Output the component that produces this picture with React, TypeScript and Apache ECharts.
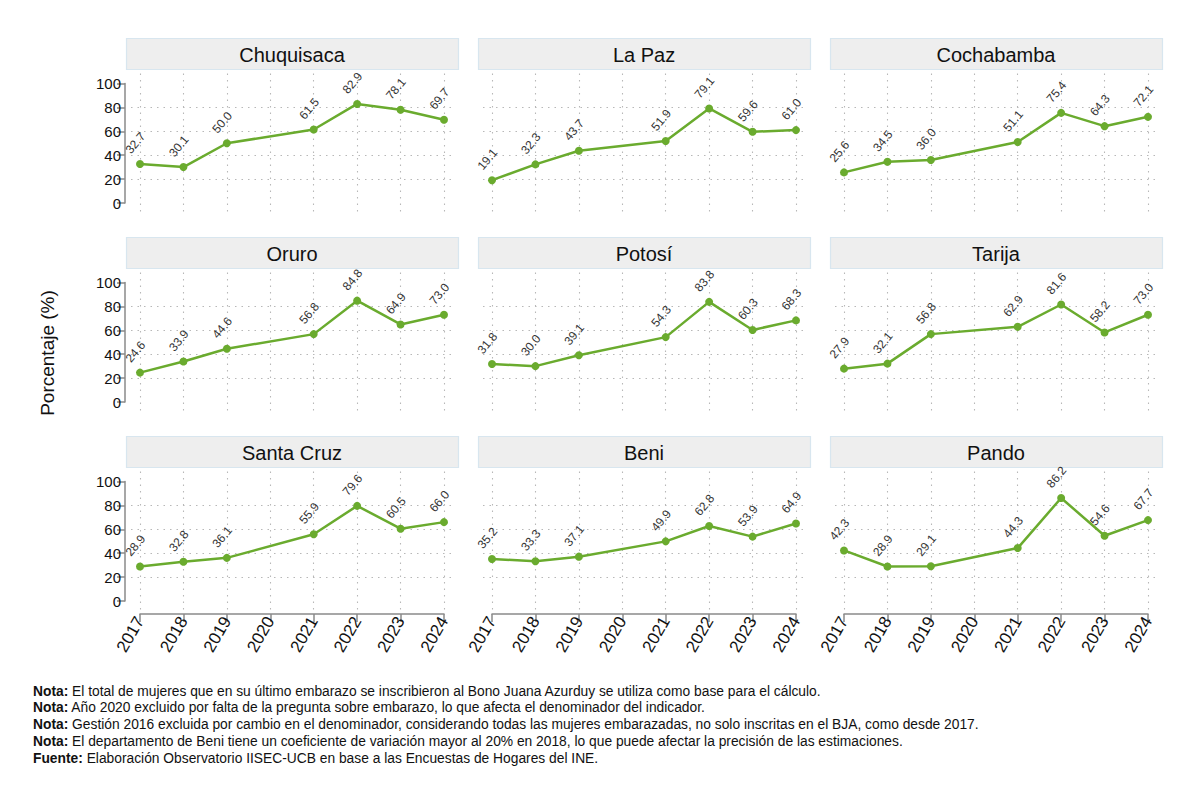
import React, { useEffect, useRef } from "react";
import * as echarts from "echarts";

const departments = ["Chuquisaca", "La Paz", "Cochabamba", "Oruro", "Potosí", "Tarija", "Santa Cruz", "Beni", "Pando"];
const years = [2017, 2018, 2019, 2021, 2022, 2023, 2024];
const tickYears = [2017, 2018, 2019, 2020, 2021, 2022, 2023, 2024];
const gridYValues = [20, 40, 60, 80];

const chuquisaca = [32.7, 30.1, 50.0, 61.5, 82.9, 78.1, 69.7];
const laPaz = [19.1, 32.3, 43.7, 51.9, 79.1, 59.6, 61.0];
const cochabamba = [25.6, 34.5, 36.0, 51.1, 75.4, 64.3, 72.1];
const oruro = [24.6, 33.9, 44.6, 56.8, 84.8, 64.9, 73.0];
const potosi = [31.8, 30.0, 39.1, 54.3, 83.8, 60.3, 68.3];
const tarija = [27.9, 32.1, 56.8, 62.9, 81.6, 58.2, 73.0];
const santaCruz = [28.9, 32.8, 36.1, 55.9, 79.6, 60.5, 66.0];
const beni = [35.2, 33.3, 37.1, 49.9, 62.8, 53.9, 64.9];
const pando = [42.3, 28.9, 29.1, 44.3, 86.2, 54.6, 67.7];

const seriesValues = [chuquisaca, laPaz, cochabamba, oruro, potosi, tarija, santaCruz, beni, pando];

const yTitle = "Porcentaje (%)";
const notes = [
  ["Nota:", " El total de mujeres que en su último embarazo se inscribieron al Bono Juana Azurduy se utiliza como base para el cálculo."],
  ["Nota:", " Año 2020 excluido por falta de la pregunta sobre embarazo, lo que afecta el denominador del indicador."],
  ["Nota:", " Gestión 2016 excluida por cambio en el denominador, considerando todas las mujeres embarazadas, no solo inscritas en el BJA, como desde 2017."],
  ["Nota:", " El departamento de Beni tiene un coeficiente de variación mayor al 20% en 2018, lo que puede afectar la precisión de las estimaciones."],
  ["Fuente:", " Elaboración Observatorio IISEC-UCB en base a las Encuestas de Hogares del INE."],
];

const FONT = "'Liberation Sans', Arial, sans-serif";
const GREEN = "#6aab2e";

export default function App() {
  const ref = useRef<HTMLDivElement>(null);

  useEffect(() => {
    document.body.style.margin = "0";
    if (!ref.current) return;
    const chart = echarts.init(ref.current, undefined, { renderer: "svg" });

    const colLeft = [126, 478, 830];
    const rowTop = [38, 237, 436];
    const boxW = 332;
    const boxH = 31;
    const pad = 14;
    const plotW = boxW - 2 * pad; // 2017..2024
    const plotH = 119.5; // 0..100
    const pxPerYear = plotW / 7;
    const pxPerUnit = plotH / 100;

    const grids: any[] = [];
    const xAxes: any[] = [];
    const yAxes: any[] = [];
    const series: any[] = [];
    const graphics: any[] = [];

    departments.forEach((name, i) => {
      const r = Math.floor(i / 3);
      const c = i % 3;
      const bx = colLeft[c];
      const by = rowTop[r];
      const xl = bx + pad;
      const y100 = by + 45.5;

      graphics.push({
        type: "rect",
        shape: { x: bx + 0.5, y: by + 0.5, width: boxW, height: boxH },
        style: { fill: "#eeeeee", stroke: "#d8e6ef", lineWidth: 1.2 },
        silent: true,
      });
      graphics.push({
        type: "text",
        x: bx + boxW / 2,
        y: by + boxH / 2 + 1,
        style: { text: name, fontSize: 20, fontFamily: FONT, fill: "#111", align: "center", verticalAlign: "middle" },
        silent: true,
      });

      const gLeftPad = 9;
      const gRightPad = 11;
      const gTopPad = 10;
      const gBotPad = 11;
      const gi = grids.length;
      grids.push({ left: xl - gLeftPad, top: y100 - gTopPad, width: plotW + gLeftPad + gRightPad, height: plotH + gTopPad + gBotPad });
      xAxes.push({
        gridIndex: gi, type: "value",
        min: 2017 - gLeftPad / pxPerYear, max: 2024 + gRightPad / pxPerYear,
        axisLine: { show: false }, axisLabel: { show: false },
        axisTick: { show: false, customValues: tickYears },
        splitLine: { show: true, lineStyle: { color: "#b8b8b8", type: [1.5, 5], width: 1.1 } },
      });
      yAxes.push({
        gridIndex: gi, type: "value",
        min: -gBotPad / pxPerUnit, max: 100 + gTopPad / pxPerUnit,
        axisLine: { show: false }, axisLabel: { show: false },
        axisTick: { show: false, customValues: gridYValues },
        splitLine: { show: true, lineStyle: { color: "#b8b8b8", type: [1.5, 5], width: 1.1 } },
      });

      const mi = grids.length;
      grids.push({ left: xl, top: y100, width: plotW, height: plotH });
      const bottomRow = r === 2;
      xAxes.push({
        gridIndex: mi, type: "value", min: 2017, max: 2024, interval: 1,
        show: bottomRow,
        offset: 13,
        axisLine: { show: true, onZero: false, lineStyle: { color: "#8a8a8a", width: 1.5 } },
        axisTick: { show: true, length: 8, lineStyle: { color: "#8a8a8a", width: 1.5 } },
        axisLabel: {
          show: true, rotate: 60, fontSize: 17, fontFamily: FONT, color: "#111", margin: 4,
          formatter: (v: number) => String(v),
        },
        splitLine: { show: false },
      });
      yAxes.push({
        gridIndex: mi, type: "value", min: 0, max: 100, interval: 20,
        show: c === 0,
        offset: 15,
        axisLine: { show: true, lineStyle: { color: "#8a8a8a", width: 1.5 } },
        axisTick: { show: true, length: 8, lineStyle: { color: "#8a8a8a", width: 1.5 } },
        axisLabel: { show: true, fontSize: 15, fontFamily: FONT, color: "#111", margin: 4 },
        splitLine: { show: false },
      });

      series.push({
        type: "line",
        xAxisIndex: mi,
        yAxisIndex: mi,
        data: years.map((y, k) => [y, seriesValues[i][k]]),
        symbol: "circle",
        symbolSize: 8,
        clip: false,
        color: GREEN,
        lineStyle: { color: GREEN, width: 2.5 },
        itemStyle: { color: GREEN },
        label: {
          show: true,
          position: "top",
          distance: 13,
          rotate: 50,
          fontSize: 12,
          fontFamily: FONT,
          color: "#333",
          formatter: (p: any) => Number(p.value[1]).toFixed(1),
        },
      });
    });

    graphics.push({
      type: "text",
      x: 47,
      y: 353,
      rotation: Math.PI / 2,
      style: { text: yTitle, fontSize: 19, fontFamily: FONT, fill: "#111", align: "center", verticalAlign: "middle" },
      silent: true,
    });

    notes.forEach((n, k) => {
      graphics.push({
        type: "text",
        x: 33,
        y: 691 + k * 16.9,
        style: {
          text: `{b|${n[0]}}${n[1]}`,
          fontSize: 13.8,
          fontFamily: FONT,
          fill: "#111",
          verticalAlign: "middle",
          rich: { b: { fontWeight: "bold", fontSize: 13.8, fontFamily: FONT, fill: "#111" } },
        },
        silent: true,
      });
    });

    chart.setOption({
      animation: false,
      backgroundColor: "#ffffff",
      grid: grids,
      xAxis: xAxes,
      yAxis: yAxes,
      series,
      graphic: graphics,
    });

    return () => chart.dispose();
  }, []);

  return <div ref={ref} style={{ position: "absolute", left: 0, top: 0, width: 1200, height: 801 }} />;
}
